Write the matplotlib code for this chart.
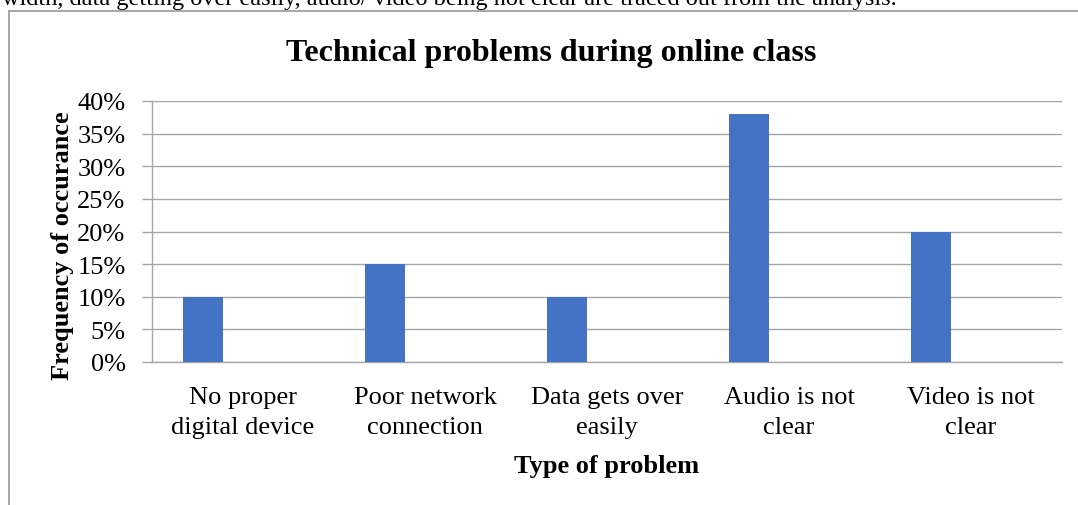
import matplotlib.pyplot as plt
from matplotlib.lines import Line2D
from matplotlib.ticker import PercentFormatter
import numpy as np

categories = ["No proper\ndigital device", "Poor network\nconnection", "Data gets over\neasily",
              "Audio is not\nclear", "Video is not\nclear"]
values = [0.10, 0.15, 0.10, 0.38, 0.20]
yticks = [0, 0.05, 0.10, 0.15, 0.20, 0.25, 0.30, 0.35, 0.40]

plt.rcParams["font.family"] = ["Liberation Serif", "DejaVu Serif"]

W, H = 1078, 506
fig = plt.figure(figsize=(W / 100, H / 100), dpi=100)
ax = fig.add_axes([152 / W, 1 - 363 / H, (1062 - 152) / W, (363 - 102) / H])

x = np.arange(len(categories))
ax.bar(x - 0.22, values, width=0.22, color="#4472C4", zorder=3)

ax.set_xlim(-0.5, len(categories) - 0.5)
ax.set_ylim(0, 0.40)
ax.set_yticks(yticks)
ax.yaxis.set_major_formatter(PercentFormatter(1.0, decimals=0))
ax.set_xticks(x)
ax.set_xticklabels(categories, fontsize=19, linespacing=1.52)
ax.tick_params(axis="x", length=0, pad=17)
ax.tick_params(axis="y", length=7, width=1, color="#a6a6a6", labelsize=19, pad=12)
ax.grid(axis="y", color="#a6a6a6", linewidth=1, zorder=0)

for side in ["top", "right"]:
    ax.spines[side].set_visible(False)
for side in ["left", "bottom"]:
    ax.spines[side].set_color("#a6a6a6")
    ax.spines[side].set_linewidth(1)

ax.set_ylabel("Frequency of occurance", fontsize=19, fontweight="bold")
ax.yaxis.set_label_coords(-0.086, 0.45)
ax.set_xlabel("Type of problem", fontsize=19, fontweight="bold", labelpad=11)
fig.text(551 / W, 1 - 54 / H, "Technical problems during online class", ha="center", va="center",
         fontsize=23, fontweight="bold")

# chart frame (only top and left edges visible in the crop)
fig.add_artist(Line2D([9 / W, 1], [1 - 12 / H, 1 - 12 / H], color="#a0a0a0", linewidth=1.3,
                      transform=fig.transFigure))
fig.add_artist(Line2D([9 / W, 9 / W], [1 - 12 / H, 0], color="#a0a0a0", linewidth=1.3,
                      transform=fig.transFigure))

# cut-off line of document text above the chart
fig.text(2 / W, 1 - 5 / H, "width, data getting over easily, audio/ video being not clear are traced out from the analysis.",
         ha="left", va="baseline", fontsize=17.5)

fig.savefig("out.png", dpi=100)
